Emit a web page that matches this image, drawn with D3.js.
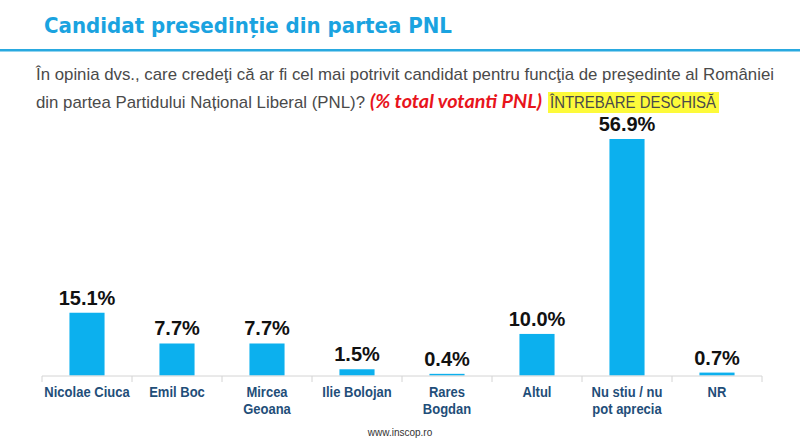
<!DOCTYPE html>
<html>
<head>
<meta charset="utf-8">
<script src="https://cdn.jsdelivr.net/npm/d3@7"></script>
<style>
  body { margin: 0; background: #fff; }
  svg { display: block; }
</style>
</head>
<body>
<svg id="chart" width="800" height="442"></svg>
<script>
// candidates and their shares (% of PNL voters)
const categories = [
    ["Nicolae Ciuca"],
    ["Emil Boc"],
    ["Mircea", "Geoana"],
    ["Ilie Bolojan"],
    ["Rares", "Bogdan"],
    ["Altul"],
    ["Nu stiu / nu", "pot aprecia"],
    ["NR"]
];
const values = [15.1, 7.7, 7.7, 1.5, 0.4, 10.0, 56.9, 0.7];
const valueLabels = ["15.1%", "7.7%", "7.7%", "1.5%", "0.4%", "10.0%", "56.9%", "0.7%"];

const svg = d3.select("#chart");
const width = 800, height = 442;
const margin = { top: 139, right: 38, bottom: 66, left: 42 };

// header
svg.append("text")
    .attr("x", 44).attr("y", 33)
    .attr("font-family", "DejaVu Sans")
    .attr("font-weight", "bold")
    .attr("font-size", 21)
    .attr("fill", "#1aa3e0")
    .attr("textLength", 408)
    .attr("lengthAdjust", "spacingAndGlyphs")
    .text("Candidat presedinție din partea PNL");

svg.append("rect")
    .attr("x", 0).attr("y", 49)
    .attr("width", width).attr("height", 2.5)
    .attr("fill", "#29a9e0");

const q = svg.append("g")
    .attr("font-family", "Liberation Sans, Arial")
    .attr("font-size", 17)
    .attr("fill", "#4a4a4a");

q.append("text")
    .attr("x", 36).attr("y", 80)
    .attr("textLength", 738)
    .attr("lengthAdjust", "spacingAndGlyphs")
    .text("În opinia dvs., care credeţi că ar fi cel mai potrivit candidat pentru funcţia de preşedinte al României");

q.append("text")
    .attr("x", 36).attr("y", 108)
    .attr("textLength", 329)
    .attr("lengthAdjust", "spacingAndGlyphs")
    .text("din partea Partidului Național Liberal (PNL)?");

q.append("text")
    .attr("x", 370).attr("y", 108)
    .attr("font-family", "Lato")
    .attr("font-weight", "bold")
    .attr("font-style", "italic")
    .attr("font-size", 18)
    .attr("fill", "#e8141c")
    .attr("textLength", 172)
    .attr("lengthAdjust", "spacingAndGlyphs")
    .text("(% total votanti PNL)");

q.append("rect")
    .attr("x", 548).attr("y", 92)
    .attr("width", 171).attr("height", 21)
    .attr("fill", "#fdfa3a");

q.append("text")
    .attr("x", 550).attr("y", 108)
    .attr("textLength", 166)
    .attr("lengthAdjust", "spacingAndGlyphs")
    .text("ÎNTREBARE DESCHISĂ");

// chart
const x = d3.scaleBand()
    .domain(d3.range(categories.length))
    .range([margin.left, width - margin.right])
    .paddingInner(0.61)
    .paddingOuter(0.305);

const y = d3.scaleLinear()
    .domain([0, 56.9])
    .range([height - margin.bottom - 0.5, margin.top]);

const step = x.step();
const x0 = margin.left;

svg.append("g")
    .selectAll("rect")
    .data(values)
    .join("rect")
    .attr("x", (d, i) => x(i))
    .attr("y", d => y(d))
    .attr("width", x.bandwidth())
    .attr("height", d => y(0) - y(d))
    .attr("fill", "#0cb0ee");

// axis line + separators
const axisY = y(0) + 0.5;
svg.append("line")
    .attr("x1", x0).attr("x2", width - margin.right)
    .attr("y1", axisY).attr("y2", axisY)
    .attr("stroke", "#d4d4d4").attr("stroke-width", 1);

svg.append("g")
    .selectAll("line")
    .data(d3.range(categories.length + 1))
    .join("line")
    .attr("x1", i => x0 + i * step).attr("x2", i => x0 + i * step)
    .attr("y1", axisY).attr("y2", axisY + 6)
    .attr("stroke", "#d4d4d4");

svg.append("g")
    .selectAll("text")
    .data(valueLabels)
    .join("text")
    .attr("x", (d, i) => x(i) + x.bandwidth() / 2)
    .attr("y", (d, i) => y(values[i]) - 8)
    .attr("text-anchor", "middle")
    .attr("font-family", "Liberation Sans, Arial")
    .attr("font-weight", "bold")
    .attr("font-size", 20)
    .attr("fill", "#111")
    .text(d => d);

// category labels, squeezed to look like a narrow face
const cat = svg.append("g")
    .selectAll("text")
    .data(categories)
    .join("text")
    .attr("transform", (d, i) => `translate(${x(i) + x.bandwidth() / 2},397) scale(0.84,1)`)
    .attr("text-anchor", "middle")
    .attr("font-family", "Liberation Sans, Arial")
    .attr("font-weight", "bold")
    .attr("font-size", 15.5)
    .attr("fill", "#1f4e79");

cat.selectAll("tspan")
    .data(d => d)
    .join("tspan")
    .attr("x", 0)
    .attr("dy", (d, i) => i === 0 ? 0 : 17)
    .text(d => d);

svg.append("text")
    .attr("x", 400).attr("y", 436)
    .attr("text-anchor", "middle")
    .attr("font-family", "Liberation Sans, Arial")
    .attr("font-size", 10)
    .attr("fill", "#333")
    .text("www.inscop.ro");
</script>
</body>
</html>
